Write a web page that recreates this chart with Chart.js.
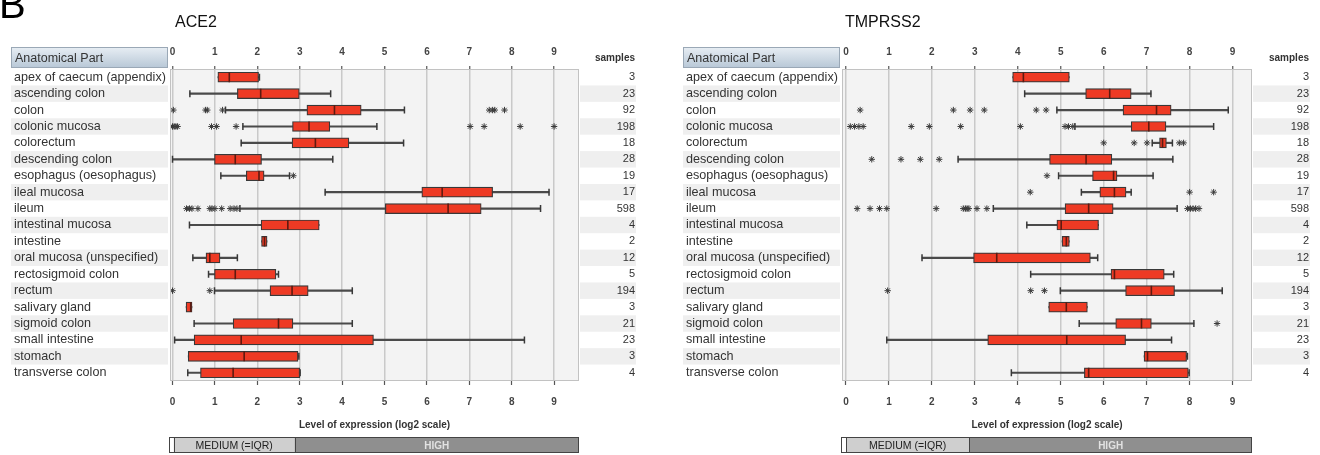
<!DOCTYPE html>
<html>
<head>
<meta charset="utf-8">
<script src="https://cdn.jsdelivr.net/npm/chart.js@4.4.1/dist/chart.umd.min.js"></script>
<style>
    body { margin: 0; background: #fff; font-family: 'Liberation Sans', Arial, sans-serif; }
    #page { position: relative; width: 1320px; height: 455px; overflow: hidden; }
    .panel { position: absolute; top: 0; width: 660px; height: 455px; }
    .title { position: absolute; top: 14px; font-size: 16px; line-height: 16px; color: #111; }
    #letter { position: absolute; left: -1px; top: -16px; font-size: 40px; line-height: 40px; color: #000; }
</style>
</head>
<body>
<div id="page">
    <div class="panel" style="left:0"><canvas id="ace2Chart" width="660" height="455"></canvas></div>
    <div class="panel" style="left:660px"><canvas id="tmprss2Chart" width="660" height="455"></canvas></div>
    <div id="letter">B</div>
    <div class="title" style="left:175px">ACE2</div>
    <div class="title" style="left:845px">TMPRSS2</div>
</div>
<script>
// ==============================
// DATA
// ==============================

const parts = [
    'apex of caecum (appendix)', 'ascending colon', 'colon', 'colonic mucosa', 'colorectum',
    'descending colon', 'esophagus (oesophagus)', 'ileal mucosa', 'ileum', 'intestinal mucosa',
    'intestine', 'oral mucosa (unspecified)', 'rectosigmoid colon', 'rectum', 'salivary gland',
    'sigmoid colon', 'small intestine', 'stomach', 'transverse colon'
];
const samples = [3, 23, 92, 198, 18, 28, 19, 17, 598, 4, 2, 12, 5, 194, 3, 21, 23, 3, 4];
const levelNames = ['MEDIUM (=IQR)', 'HIGH'];

// ACE2
const ace2Min    = [1.07, 0.41, 1.25, 1.66, 1.62, 0.00, 1.14, 3.60, 1.59, 0.40, 2.10, 0.48, 0.85, 0.99, 0.32, 0.51, 0.05, 0.37, 0.36];
const ace2Q1     = [1.07, 1.53, 3.17, 2.83, 2.82, 0.99, 1.74, 5.88, 5.02, 2.09, 2.10, 0.79, 0.99, 2.30, 0.32, 1.43, 0.51, 0.37, 0.66];
const ace2Median = [1.34, 2.08, 3.82, 3.22, 3.37, 1.48, 2.04, 6.36, 6.50, 2.72, 2.17, 0.88, 1.48, 2.82, 0.43, 2.50, 1.62, 1.69, 1.43];
const ace2Q3     = [2.03, 2.99, 4.45, 3.71, 4.16, 2.10, 2.16, 7.55, 7.28, 3.46, 2.23, 1.12, 2.44, 3.20, 0.46, 2.84, 4.74, 2.96, 3.00];
const ace2Max    = [2.05, 3.73, 5.47, 4.82, 5.45, 3.78, 2.76, 8.88, 8.68, 3.46, 2.23, 1.53, 2.50, 4.24, 0.46, 4.24, 8.30, 2.98, 3.01];
const ace2Outliers = [
    [], [],
    [0.02, 0.78, 0.82, 1.18, 7.47, 7.55, 7.60, 7.83],
    [0.00, 0.04, 0.08, 0.12, 0.92, 1.04, 1.50, 7.02, 7.35, 8.20, 9.00],
    [], [], [2.85], [],
    [0.33, 0.40, 0.46, 0.60, 0.88, 0.93, 1.00, 1.16, 1.36, 1.45, 1.52],
    [], [], [], [],
    [0.00, 0.88],
    [], [], [], [], []
];
const ace2Medium = [0.03, 2.88];
const ace2Range = [-0.059, 9.587];

// TMPRSS2
const tmprss2Min    = [3.88, 4.16, 4.91, 5.33, 7.13, 2.61, 4.95, 5.48, 3.43, 4.21, 5.03, 1.77, 4.30, 4.99, 4.72, 5.43, 0.95, 6.94, 3.85];
const tmprss2Q1     = [3.88, 5.58, 6.45, 6.64, 7.30, 4.74, 5.74, 5.91, 5.10, 4.91, 5.03, 2.97, 6.17, 6.51, 4.72, 6.28, 3.30, 6.94, 5.55];
const tmprss2Median = [4.13, 6.14, 7.23, 7.05, 7.37, 5.59, 6.23, 6.25, 5.65, 5.01, 5.13, 3.51, 6.25, 7.11, 5.13, 6.88, 5.14, 7.02, 5.65];
const tmprss2Q3     = [5.20, 6.64, 7.57, 7.45, 7.46, 6.19, 6.31, 6.52, 6.22, 5.88, 5.20, 5.69, 7.41, 7.65, 5.62, 7.11, 6.51, 7.93, 7.97];
const tmprss2Max    = [5.20, 7.10, 8.90, 8.56, 7.60, 7.61, 7.15, 6.64, 7.71, 5.88, 5.20, 5.86, 7.63, 8.76, 5.62, 8.10, 7.58, 7.95, 7.99];
const tmprss2Outliers = [
    [], [],
    [0.33, 2.50, 2.89, 3.22, 4.43, 4.66],
    [0.10, 0.20, 0.30, 0.40, 1.52, 1.94, 2.67, 4.06, 5.10, 5.18, 5.28],
    [6.00, 6.71, 7.01, 7.76, 7.86],
    [0.60, 1.28, 1.73, 2.17],
    [4.68],
    [4.29, 8.00, 8.56],
    [0.26, 0.56, 0.78, 0.95, 2.10, 2.73, 2.78, 2.82, 2.86, 3.05, 3.28, 7.95, 8.02, 8.08, 8.14, 8.22],
    [], [], [], [],
    [0.97, 4.30, 4.62],
    [],
    [8.64],
    [], [], []
];
const tmprss2Medium = [0.0, 2.87];
const tmprss2Range = [-0.093, 9.453];

const FONT = "'Liberation Sans', Arial, sans-serif";


// ==============================
// BOXPLOT DATASETS
// ==============================

function boxDatasets(min, q1, med, q3, max, outliers) {
    const caps = [];
    parts.forEach((p, i) => {
        if (min[i] < q1[i]) caps.push({ x: min[i], y: p });
        if (max[i] > q3[i]) caps.push({ x: max[i], y: p });
    });
    const stars = [];
    outliers.forEach((list, i) => list.forEach(v => stars.push({ x: v, y: parts[i] })));

    const common = { xAxisID: 'x', yAxisID: 'y' };
    // first dataset is drawn on top
    return [
        { ...common, type: 'scatter', data: stars,
          pointStyle: 'star', pointRadius: 3.2, pointBorderColor: '#3a3a3a', pointBorderWidth: 1 },
        { ...common, type: 'scatter', data: med.map((v, i) => ({ x: v, y: parts[i] })),
          pointStyle: 'line', pointRotation: 90, pointRadius: 5, pointBorderColor: '#5e1a10', pointBorderWidth: 1.6 },
        { ...common, type: 'bar', data: parts.map((p, i) => [q1[i], q3[i]]),
          backgroundColor: '#ee3a24', borderColor: '#383838', borderWidth: 1.2,
          borderSkipped: false, barThickness: 10, grouped: false },
        { ...common, type: 'scatter', data: caps,
          pointStyle: 'line', pointRotation: 90, pointRadius: 3.5, pointBorderColor: '#383838', pointBorderWidth: 1.5 },
        { ...common, type: 'bar', data: parts.map((p, i) => [min[i], max[i]]),
          backgroundColor: '#4a4a4a', borderWidth: 0, barThickness: 1.5, grouped: false }
    ];
}


// 🔧 background stripes, header cells and the expression band
function decorPlugin(medium) {
    return {
        id: 'decor',
        beforeDraw(chart) {
            const { ctx, chartArea: a, scales } = chart;
            const y = scales.y;
            const rowH = (a.bottom - a.top) / parts.length;
            const labelLeft = y.left - 3;
            const sampleRight = scales.ys.right + 1;
            ctx.save();
            ctx.fillStyle = '#efefef';
            parts.forEach((p, i) => {
                if (i % 2 === 0) return;
                const cy = y.getPixelForValue(i);
                ctx.fillRect(labelLeft, cy - rowH / 2, a.left - 2 - labelLeft, rowH);
                ctx.fillRect(a.right + 1, cy - rowH / 2, sampleRight - a.right - 1, rowH);
            });
            ctx.fillStyle = '#f3f3f3';
            ctx.fillRect(a.left, a.top, a.right - a.left, a.bottom - a.top);

            // "Anatomical Part" header
            const hx = labelLeft, hy = a.top - 22, hw = a.left - 2 - labelLeft, hh = 21;
            const g = ctx.createLinearGradient(0, hy, 0, hy + hh);
            g.addColorStop(0, '#e8eef4');
            g.addColorStop(1, '#b7c7d6');
            ctx.fillStyle = g;
            ctx.fillRect(hx, hy, hw, hh);
            ctx.strokeStyle = '#9aa8b6';
            ctx.lineWidth = 1;
            ctx.strokeRect(hx + 0.5, hy + 0.5, hw - 1, hh - 1);
            ctx.fillStyle = '#333';
            ctx.font = '12.5px ' + FONT;
            ctx.textBaseline = 'middle';
            ctx.textAlign = 'left';
            ctx.fillText('Anatomical Part', hx + 4, hy + hh / 2 + 1);

            ctx.font = 'bold 10px ' + FONT;
            ctx.textAlign = 'right';
            ctx.fillText('samples', scales.ys.right, 58);
            ctx.restore();
        },
        afterDraw(chart) {
            const { ctx, chartArea: a, scales } = chart;
            const x = scales.x;
            ctx.save();
            ctx.strokeStyle = '#c2c2c2';
            ctx.lineWidth = 1;
            ctx.strokeRect(a.left + 0.5, a.top + 0.5, a.right - a.left - 1, a.bottom - a.top - 1);

            // MEDIUM / HIGH band
            const top = 437, h = 16;
            const left = a.left - 1, right = a.right;
            const m0 = x.getPixelForValue(medium[0]);
            const m1 = x.getPixelForValue(medium[1]);
            ctx.fillStyle = '#ffffff';
            ctx.fillRect(left, top, m0 - left, h);
            ctx.fillStyle = '#cfcfcf';
            ctx.fillRect(m0, top, m1 - m0, h);
            ctx.fillStyle = '#8f8f8f';
            ctx.fillRect(m1, top, right - m1, h);
            ctx.strokeStyle = '#444';
            ctx.strokeRect(left + 0.5, top + 0.5, right - left - 1, h - 1);
            ctx.beginPath();
            ctx.moveTo(Math.round(m0) + 0.5, top);
            ctx.lineTo(Math.round(m0) + 0.5, top + h);
            ctx.moveTo(Math.round(m1) + 0.5, top);
            ctx.lineTo(Math.round(m1) + 0.5, top + h);
            ctx.stroke();

            ctx.textAlign = 'center';
            ctx.textBaseline = 'middle';
            ctx.font = '10.5px ' + FONT;
            ctx.fillStyle = '#222';
            ctx.fillText(levelNames[0], (m0 + m1) / 2, top + h / 2 + 1);
            ctx.font = 'bold 10px ' + FONT;
            ctx.fillStyle = '#e2e2e2';
            ctx.fillText(levelNames[1], (m1 + right) / 2, top + h / 2 + 1);
            ctx.restore();
        }
    };
}


function createBoxChart(canvasId, stats, range, medium, pad) {
    const tickFont = { family: FONT, size: 10, weight: 'bold' };
    return new Chart(document.getElementById(canvasId), {
        type: 'bar',
        data: {
            labels: parts,
            datasets: boxDatasets(...stats)
        },
        options: {
            indexAxis: 'y',
            responsive: false,
            animation: false,
            events: [],
            layout: { padding: { left: pad.left, right: pad.right, top: 0, bottom: 0 } },
            plugins: {
                legend: { display: false },
                tooltip: { enabled: false }
            },
            scales: {
                x: {
                    type: 'linear', position: 'top', min: range[0], max: range[1],
                    ticks: { stepSize: 1, includeBounds: false, padding: 8, color: '#444', font: tickFont },
                    grid: { color: '#c9c9c9', lineWidth: 1.5, tickLength: 3, tickColor: '#555', tickWidth: 1.2 },
                    border: { display: false },
                    afterFit: s => { s.height = 69; }
                },
                xb: {
                    axis: 'x', type: 'linear', position: 'bottom', min: range[0], max: range[1],
                    ticks: { stepSize: 1, includeBounds: false, padding: 11, color: '#444', font: tickFont },
                    grid: { drawOnChartArea: false, tickLength: 4, tickColor: '#555', tickWidth: 1.2 },
                    border: { display: false },
                    title: {
                        display: true, text: 'Level of expression (log2 scale)', color: '#333',
                        font: { family: FONT, size: 10, weight: 'bold' }, padding: { top: 0, bottom: 24 }
                    },
                    afterFit: s => { s.height = 74; }
                },
                y: {
                    type: 'category', position: 'left', labels: parts, offset: true,
                    ticks: { autoSkip: false, crossAlign: 'far', padding: 0, color: '#333', font: { family: FONT, size: 12.6 } },
                    grid: { display: false },
                    border: { display: false },
                    afterFit: s => { s.width = 156; }
                },
                ys: {
                    axis: 'y', type: 'category', position: 'right', labels: samples.map(String), offset: true,
                    ticks: { autoSkip: false, crossAlign: 'far', padding: 0, color: '#333', font: { family: FONT, size: 11 } },
                    grid: { display: false },
                    border: { display: false },
                    afterFit: s => { s.width = pad.samples; }
                }
            }
        },
        plugins: [decorPlugin(medium)]
    });
}


// ==============================
// ACE2 / TMPRSS2
// ==============================

createBoxChart('ace2Chart',
    [ace2Min, ace2Q1, ace2Median, ace2Q3, ace2Max, ace2Outliers],
    ace2Range, ace2Medium, { left: 14, right: 25, samples: 56 });

createBoxChart('tmprss2Chart',
    [tmprss2Min, tmprss2Q1, tmprss2Median, tmprss2Q3, tmprss2Max, tmprss2Outliers],
    tmprss2Range, tmprss2Medium, { left: 26, right: 11, samples: 57 });
</script>
</body>
</html>
